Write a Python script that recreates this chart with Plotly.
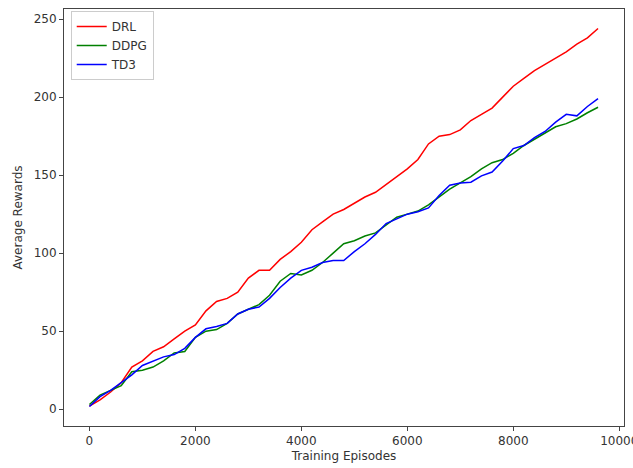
import plotly.graph_objects as go

episodes = list(range(0, 9601, 200))

drl = [2, 6, 11, 17, 27, 31, 37, 40, 45, 50, 54, 63, 69, 71, 75, 84, 89, 89, 96, 101,
       107, 115, 120, 125, 128, 132, 136, 139, 144, 149, 154, 160, 170, 175, 176, 179,
       185, 189, 193, 200, 207, 212, 217, 221, 225, 229, 234, 238, 244]

ddpg = [3, 9, 12, 15, 24, 25, 27, 31, 36, 37, 46, 50, 51, 55, 61, 64, 67, 73, 82, 87,
        86, 89, 94, 100, 106, 108, 111, 113, 118, 123, 125, 127, 131, 136, 141, 145,
        149, 154, 158, 160, 164, 169, 173, 177, 181, 183, 186, 190, 193.5]

td3 = [1.7, 8, 12, 17, 22, 28, 31, 33.5, 35, 39, 46, 51.5, 53, 55, 61, 64, 65.5, 71, 78, 84,
       89, 91, 94, 95.3, 95.3, 101, 106, 112, 119, 122, 125, 126.5, 129, 137, 143.5, 145,
       145.5, 149.5, 152, 159, 167, 169, 174, 178, 184, 189, 188, 194, 199]

x_ticks = [0, 2000, 4000, 6000, 8000, 10000]
x_tick_labels = ["0", "2000", "4000", "6000", "8000", "10000"]
y_ticks = [0, 50, 100, 150, 200, 250]
y_tick_labels = ["0", "50", "100", "150", "200", "250"]

fig = go.Figure()
for name, ys, col in [("DRL", drl, "#ff0000"), ("DDPG", ddpg, "#008000"), ("TD3", td3, "#0000ff")]:
    fig.add_trace(go.Scatter(x=episodes, y=ys, mode="lines", name=name,
                             line=dict(color=col, width=1.5)))

axis_common = dict(showline=True, mirror=True, linecolor="#444444", linewidth=1,
                   ticks="outside", ticklen=4, tickcolor="#444444", showgrid=False,
                   zeroline=False, automargin=False, ticklabeloverflow="allow",
                   tickfont=dict(family="DejaVu Sans", size=12, color="#333333"))

fig.update_layout(
    width=633, height=468,
    margin=dict(l=64, r=9, t=9, b=42),
    paper_bgcolor="white", plot_bgcolor="white",
    font=dict(family="DejaVu Sans", size=12, color="#333333"),
    xaxis=dict(range=[-480, 10090], tickvals=x_ticks, ticktext=x_tick_labels,
               title=dict(text="Training Episodes", standoff=4, font=dict(size=12)),
               **axis_common),
    yaxis=dict(range=[-10.8, 256.5], tickvals=y_ticks, ticktext=y_tick_labels,
               title=dict(text="Average Rewards", standoff=8, font=dict(size=12)),
               **axis_common),
    legend=dict(x=0.012, y=0.995, xanchor="left", yanchor="top",
                bgcolor="rgba(255,255,255,0.9)", bordercolor="#cccccc", borderwidth=1,
                font=dict(size=12, color="#333333"), itemwidth=30, tracegroupgap=0),
    showlegend=True,
)

fig.write_html("out.html", config={"displayModeBar": False},
               post_script="document.body.style.margin='0';")
